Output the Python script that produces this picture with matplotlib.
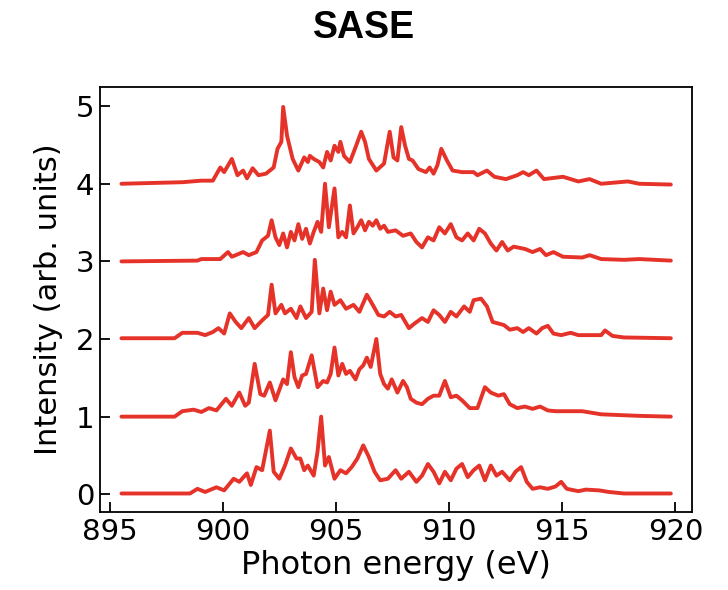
import matplotlib
matplotlib.use("Agg")
import matplotlib.pyplot as plt

# offsets of the five SASE shots (stacked)
offsets = [0, 1, 2, 3, 4]

# shot 0 (bottom)
e0 = [895.51, 898.54, 898.87, 899.21, 899.71, 900.05, 900.47, 900.72, 901.06, 901.23, 901.48, 901.73,
      902.07, 902.24, 902.49, 902.74, 903.00, 903.25, 903.42, 903.59, 903.75, 904.01, 904.18, 904.34,
      904.51, 904.68, 904.93, 905.19, 905.44, 905.69, 905.94, 906.20, 906.45, 906.70, 906.95, 907.29,
      907.63, 907.88, 908.22, 908.55, 908.80, 909.06, 909.31, 909.56, 909.81, 910.07, 910.32, 910.57,
      910.82, 911.08, 911.33, 911.58, 911.84, 912.09, 912.34, 912.68, 912.93, 913.18, 913.43, 913.69,
      914.02, 914.36, 914.70, 914.95, 915.20, 915.71, 916.04, 916.63, 917.05, 917.73, 919.8]
i0 = [0.01, 0.01, 0.07, 0.03, 0.09, 0.05, 0.20, 0.16, 0.27, 0.12, 0.35, 0.31,
      0.82, 0.29, 0.20, 0.37, 0.59, 0.46, 0.46, 0.31, 0.37, 0.24, 0.55, 1.00,
      0.37, 0.48, 0.20, 0.31, 0.27, 0.35, 0.46, 0.63, 0.48, 0.29, 0.18, 0.20,
      0.31, 0.20, 0.29, 0.16, 0.24, 0.39, 0.29, 0.14, 0.29, 0.18, 0.33, 0.39,
      0.22, 0.31, 0.37, 0.18, 0.37, 0.24, 0.29, 0.18, 0.29, 0.35, 0.16, 0.07,
      0.09, 0.07, 0.10, 0.16, 0.07, 0.04, 0.06, 0.05, 0.03, 0.01, 0.01]

# shot 1
e1 = [895.51, 897.86, 898.20, 898.70, 899.04, 899.38, 899.71, 900.13, 900.39, 900.72, 900.98, 901.14,
      901.40, 901.65, 901.82, 902.07, 902.32, 902.66, 902.83, 903.00, 903.16, 903.33, 903.50, 903.67,
      903.92, 904.18, 904.43, 904.60, 904.76, 904.93, 905.10, 905.27, 905.44, 905.61, 905.86, 906.03,
      906.20, 906.36, 906.53, 906.78, 906.95, 907.12, 907.29, 907.46, 907.71, 907.96, 908.13, 908.30,
      908.55, 908.80, 909.06, 909.31, 909.56, 909.81, 910.07, 910.32, 910.57, 910.91, 911.25, 911.58,
      911.84, 912.17, 912.42, 912.68, 913.01, 913.35, 913.69, 914.02, 914.36, 914.70, 915.03, 915.88,
      916.72, 918.40, 919.8]
i1 = [0.00, 0.00, 0.07, 0.09, 0.06, 0.11, 0.08, 0.23, 0.14, 0.31, 0.14, 0.18,
      0.68, 0.29, 0.27, 0.44, 0.21, 0.48, 0.42, 0.83, 0.51, 0.38, 0.53, 0.55,
      0.79, 0.38, 0.46, 0.44, 0.55, 0.89, 0.53, 0.68, 0.55, 0.59, 0.48, 0.61,
      0.66, 0.76, 0.64, 1.00, 0.55, 0.42, 0.36, 0.48, 0.31, 0.46, 0.38, 0.23,
      0.18, 0.16, 0.23, 0.27, 0.27, 0.46, 0.25, 0.27, 0.21, 0.11, 0.11, 0.38,
      0.31, 0.27, 0.29, 0.16, 0.11, 0.13, 0.10, 0.13, 0.08, 0.07, 0.07, 0.07,
      0.03, 0.01, 0.00]

# shot 2
e2 = [895.51, 897.86, 898.20, 898.87, 899.21, 899.55, 899.80, 900.05, 900.30, 900.56, 900.81, 901.14,
      901.40, 901.73, 901.99, 902.15, 902.32, 902.58, 902.74, 903.00, 903.25, 903.42, 903.67, 903.92,
      904.06, 904.26, 904.43, 904.60, 904.76, 904.93, 905.19, 905.44, 905.77, 906.03, 906.36, 906.62,
      906.87, 907.12, 907.37, 907.63, 907.88, 908.22, 908.47, 908.80, 909.06, 909.31, 909.56, 909.81,
      910.07, 910.32, 910.66, 910.91, 911.08, 911.41, 911.67, 911.92, 912.17, 912.42, 912.68, 913.01,
      913.27, 913.52, 913.86, 914.11, 914.36, 914.61, 914.95, 915.37, 915.71, 916.72, 916.89, 917.22,
      917.73, 919.8]
i2 = [0.01, 0.01, 0.08, 0.08, 0.05, 0.09, 0.14, 0.07, 0.33, 0.22, 0.14, 0.27,
      0.14, 0.24, 0.31, 0.70, 0.33, 0.44, 0.33, 0.39, 0.27, 0.42, 0.27, 0.35,
      1.02, 0.33, 0.65, 0.37, 0.61, 0.44, 0.50, 0.39, 0.44, 0.35, 0.57, 0.44,
      0.31, 0.29, 0.35, 0.29, 0.31, 0.14, 0.20, 0.27, 0.22, 0.37, 0.31, 0.22,
      0.35, 0.29, 0.42, 0.35, 0.50, 0.52, 0.42, 0.22, 0.20, 0.18, 0.12, 0.14,
      0.09, 0.14, 0.07, 0.14, 0.17, 0.07, 0.05, 0.08, 0.05, 0.05, 0.11, 0.04,
      0.02, 0.01]

# shot 3
e3 = [895.51, 898.87, 899.04, 899.88, 900.22, 900.39, 900.89, 901.14, 901.48, 901.73, 901.99, 902.15,
      902.32, 902.49, 902.66, 902.83, 903.00, 903.16, 903.33, 903.50, 903.67, 903.84, 904.01, 904.18,
      904.34, 904.51, 904.68, 904.93, 905.10, 905.27, 905.44, 905.61, 905.77, 905.94, 906.11, 906.28,
      906.45, 906.62, 906.78, 906.95, 907.12, 907.29, 907.63, 907.96, 908.30, 908.55, 908.80, 909.06,
      909.31, 909.56, 909.81, 910.07, 910.32, 910.57, 910.82, 911.08, 911.33, 911.58, 911.84, 912.09,
      912.34, 912.59, 912.85, 913.35, 913.69, 914.02, 914.28, 914.61, 915.03, 915.88, 916.21, 916.72,
      917.73, 918.40, 919.8]
i3 = [0.00, 0.01, 0.03, 0.03, 0.12, 0.06, 0.12, 0.08, 0.12, 0.27, 0.33, 0.53,
      0.31, 0.21, 0.36, 0.18, 0.38, 0.27, 0.48, 0.29, 0.42, 0.23, 0.38, 0.51,
      0.38, 1.00, 0.44, 0.94, 0.31, 0.38, 0.31, 0.72, 0.36, 0.44, 0.53, 0.40,
      0.51, 0.46, 0.53, 0.42, 0.46, 0.38, 0.40, 0.33, 0.36, 0.25, 0.18, 0.31,
      0.27, 0.44, 0.36, 0.48, 0.31, 0.27, 0.36, 0.27, 0.42, 0.36, 0.23, 0.14,
      0.25, 0.14, 0.19, 0.16, 0.12, 0.16, 0.08, 0.12, 0.06, 0.05, 0.08, 0.03,
      0.02, 0.03, 0.01]

# shot 4 (top)
e4 = [895.51, 898.20, 899.04, 899.55, 899.88, 900.05, 900.39, 900.64, 900.89, 901.06, 901.31, 901.57,
      901.90, 902.24, 902.41, 902.58, 902.66, 902.83, 903.08, 903.33, 903.59, 903.75, 903.84, 904.01,
      904.26, 904.43, 904.60, 904.76, 904.93, 905.10, 905.19, 905.35, 905.61, 905.86, 906.11, 906.28,
      906.45, 906.78, 907.12, 907.37, 907.54, 907.71, 907.88, 908.05, 908.22, 908.38, 908.64, 908.97,
      909.14, 909.31, 909.48, 909.65, 909.90, 910.15, 910.57, 911.08, 911.25, 911.67, 912.00, 912.51,
      913.01, 913.27, 913.52, 913.86, 914.19, 915.03, 915.71, 916.21, 916.72, 917.90, 918.40, 919.8]
i4 = [0.00, 0.02, 0.04, 0.04, 0.21, 0.15, 0.32, 0.11, 0.17, 0.07, 0.20, 0.11,
      0.13, 0.21, 0.45, 0.54, 0.99, 0.62, 0.32, 0.17, 0.34, 0.28, 0.36, 0.32,
      0.28, 0.21, 0.41, 0.30, 0.49, 0.41, 0.54, 0.36, 0.28, 0.47, 0.67, 0.54,
      0.32, 0.17, 0.26, 0.67, 0.34, 0.30, 0.73, 0.49, 0.32, 0.30, 0.19, 0.15,
      0.21, 0.13, 0.24, 0.45, 0.30, 0.17, 0.15, 0.15, 0.11, 0.17, 0.09, 0.06,
      0.11, 0.15, 0.11, 0.17, 0.06, 0.09, 0.03, 0.06, 0.00, 0.03, 0.00, -0.01]

energies = [e0, e1, e2, e3, e4]
intensities = [i0, i1, i2, i3, i4]

xticks = [895, 900, 905, 910, 915, 920]
yticks = [0, 1, 2, 3, 4, 5]

fig = plt.figure(figsize=(7.28, 5.9), dpi=100)
ax = fig.add_axes([0.137, 0.132, 0.814, 0.721])

for e, y, off in zip(energies, intensities, offsets):
    ax.plot(e, [v + off for v in y], color="#e5332a", lw=2.8,
            solid_joinstyle="round", solid_capstyle="round")

ax.set_xlim(894.55, 920.75)
ax.set_ylim(-0.23, 5.25)
ax.set_xticks(xticks)
ax.set_yticks(yticks)
ax.tick_params(direction="in", length=7, width=1.3, labelsize=21, pad=4)
for s in ax.spines.values():
    s.set_linewidth(1.3)

ax.set_xlabel("Photon energy (eV)", fontsize=23, labelpad=3)
ax.set_ylabel("Intensity (arb. units)", fontsize=22, labelpad=9)

fig.text(0.5, 0.953, "SASE", ha="center", va="center", fontsize=27,
         fontweight="bold", family=["Liberation Sans", "DejaVu Sans"])

fig.savefig("out.png", dpi=100)
